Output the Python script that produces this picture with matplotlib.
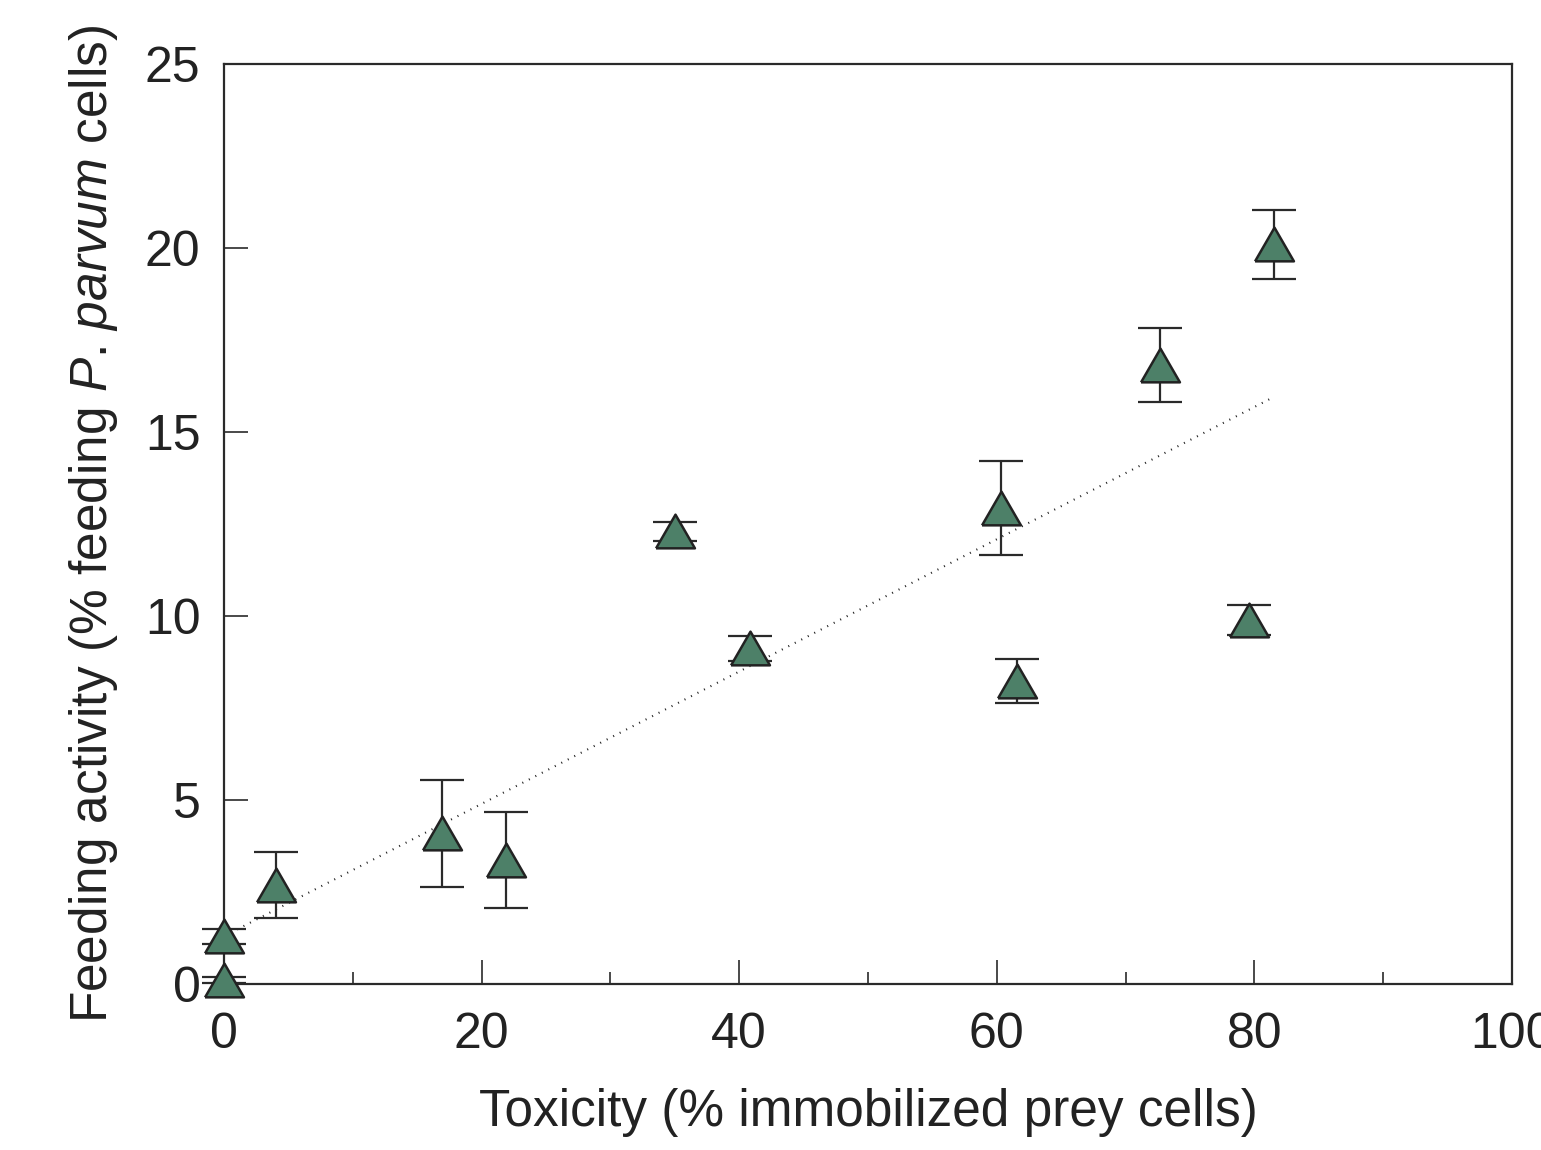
import numpy as np
import matplotlib
matplotlib.use("Agg")
import matplotlib.pyplot as plt

plt.rcParams['font.family'] = ['Liberation Sans', 'DejaVu Sans']
plt.rcParams['mathtext.fontset'] = 'custom'
plt.rcParams['mathtext.rm'] = 'Liberation Sans'
plt.rcParams['mathtext.it'] = 'Liberation Sans:italic'

# data
toxicity = [0.0, 0.0, 4.0, 16.9, 21.9, 35.0, 40.8, 60.3, 61.6, 72.7, 79.6, 81.5]
feeding = [1.3, 0.12, 2.69, 4.09, 3.37, 12.3, 9.12, 12.93, 8.23, 16.82, 9.89, 20.1]
feeding_err = [0.2, 0.08, 0.9, 1.45, 1.3, 0.25, 0.34, 1.27, 0.6, 1.0, 0.4, 0.94]

# dotted regression line endpoints
trend_x = [0.0, 81.5]
trend_y = [1.3, 15.95]

fig = plt.figure(figsize=(15.41, 11.5), dpi=100)
ax = fig.add_axes([224 / 1541, 1 - 984 / 1150, (1512 - 224) / 1541, (984 - 64) / 1150])

ax.plot(trend_x, trend_y, linestyle=(0, (0.5, 3.0)), color='#222222', linewidth=1.5, zorder=1)

tri = [(-1, -0.866), (1, -0.866), (0, 0.866), (-1, -0.866)]
ax.errorbar(toxicity, feeding, yerr=feeding_err, fmt='none', ecolor='#2a2a2a',
            elinewidth=1.6, capsize=15.5, capthick=1.6, zorder=2, clip_on=False)
ax.plot(toxicity, feeding, linestyle='none', marker=tri, markersize=28,
        markerfacecolor='#4d8068', markeredgecolor='#222222', markeredgewidth=1.8,
        zorder=3, clip_on=False)

ax.set_xlim(0, 100)
ax.set_ylim(0, 25)
ax.set_xticks([0, 20, 40, 60, 80, 100])
ax.set_xticks([10, 30, 50, 70, 90], minor=True)
ax.set_yticks([0, 5, 10, 15, 20, 25])

for s in ax.spines.values():
    s.set_linewidth(1.6)
    s.set_color('#2a2a2a')

ax.tick_params(axis='x', which='major', direction='in', length=17, width=1.2,
               labelsize=36, pad=20, colors='#2a2a2a', top=False)
ax.tick_params(axis='x', which='minor', direction='in', length=9, width=1.2,
               colors='#2a2a2a', top=False)
ax.tick_params(axis='y', which='major', direction='in', length=17, width=1.2,
               labelsize=36, pad=17, colors='#2a2a2a', right=False)
for lab in ax.get_xticklabels() + ax.get_yticklabels():
    lab.set_color('#222222')

ax.set_xlabel('Toxicity (% immobilized prey cells)', fontsize=37, labelpad=22, color='#222222')
ax.set_ylabel(r'Feeding activity (% feeding $\it{P}$. $\it{parvum}$ cells)', fontsize=37,
              labelpad=18, color='#222222')

fig.savefig('out.png', dpi=100)
